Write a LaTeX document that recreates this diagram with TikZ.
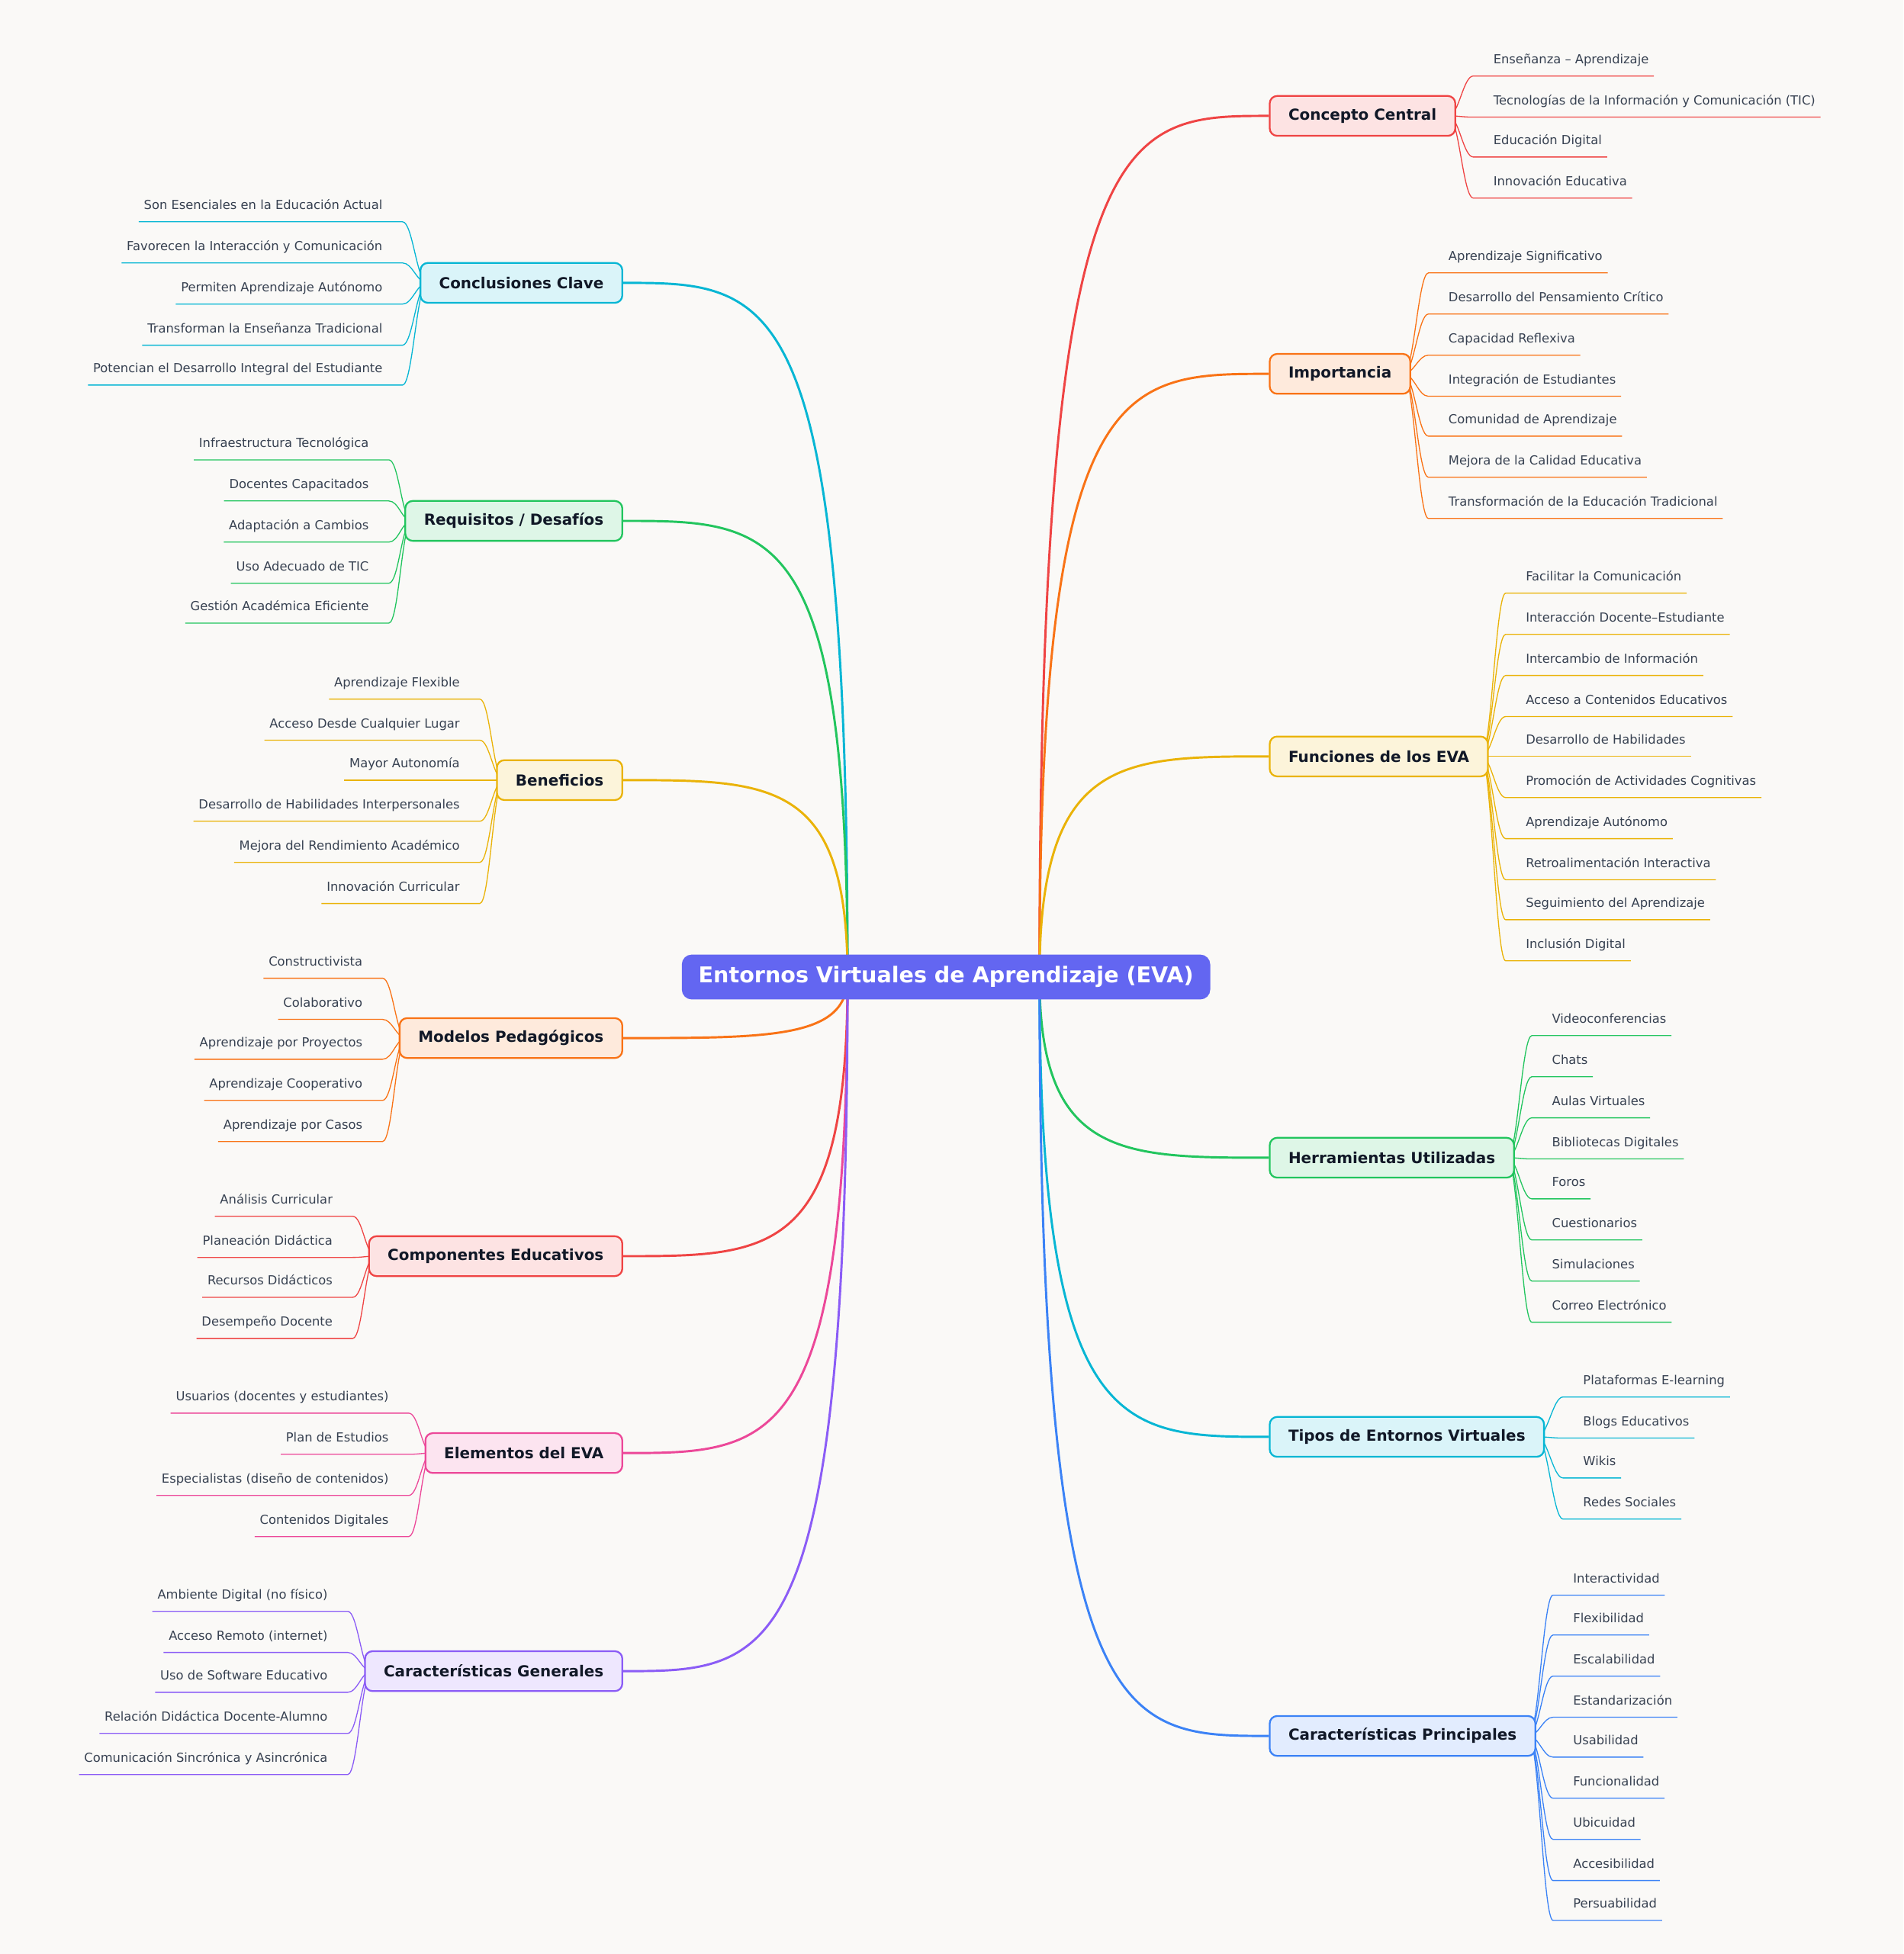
\documentclass[tikz,border=0pt]{standalone}
\usepackage{fontspec}
\setmainfont{DejaVu Sans}
\usetikzlibrary{calc}
\definecolor{cred}{HTML}{EF4444}
\definecolor{corange}{HTML}{F97316}
\definecolor{cyellow}{HTML}{EAB308}
\definecolor{cgreen}{HTML}{22C55E}
\definecolor{ccyan}{HTML}{06B6D4}
\definecolor{cblue}{HTML}{3B82F6}
\definecolor{cpink}{HTML}{EC4899}
\definecolor{cpurple}{HTML}{8B5CF6}
\definecolor{cindigo}{HTML}{6366F1}
\definecolor{bgc}{HTML}{FAF9F7}
\definecolor{ltext}{HTML}{374151}
\definecolor{btext}{HTML}{111827}
\pgfdeclarelayer{bg}
\pgfdeclarelayer{lines}
\pgfsetlayers{bg,lines,main}
\tikzset{
 leaf/.style={font=\fontsize{10}{12}\selectfont, text=ltext, inner sep=0pt},
 br/.style={draw=#1, fill=#1!15, line width=1.4pt, rounded corners=6pt, minimum height=32pt, inner xsep=15pt, text=btext, font=\bfseries\fontsize{12.2}{14}\selectfont},
 mainline/.style={#1, line width=1.8pt},
 leafline/.style={#1, line width=0.8pt}
}
\newcommand\RB[6]{%
 \node[br=#4, anchor=west] (#1) at (1018,#2) {#3};
 \begin{pgfonlayer}{lines}
 \draw[mainline=#4] (cR) .. controls (834,#2) and (900,#2) .. (#1.west);
 \end{pgfonlayer}
 \foreach \ly/\lt [count=\i] in {#6} {
  \node[leaf, anchor=base west] (#1l\i) at (#5,\ly+4) {\lt};
  \path (#1l\i.base east) ++(4,10) coordinate (#1e\i);
  \begin{pgfonlayer}{lines}
  \draw[leafline=#4] ($(#1.east)+(-6,0)$) .. controls ($(#1.east)+(2,0)$) and (#5-24,\ly+14) .. (#5-16,\ly+14) -- (#1e\i);
  \end{pgfonlayer}
 }
}
\newcommand\LB[6]{%
 \node[br=#4, anchor=east] (#1) at (500,#2) {#3};
 \begin{pgfonlayer}{lines}
 \draw[mainline=#4] (cL) .. controls (680,#2) and (620,#2) .. (#1.east);
 \end{pgfonlayer}
 \foreach \ly/\lt [count=\i] in {#6} {
  \node[leaf, anchor=base east] (#1l\i) at (#5,\ly+4) {\lt};
  \path (#1l\i.base west) ++(-4,10) coordinate (#1e\i);
  \begin{pgfonlayer}{lines}
  \draw[leafline=#4] (#1e\i) -- (#5+16,\ly+14) .. controls (#5+24,\ly+14) and ($(#1.west)+(-2,0)$) .. ($(#1.west)+(6,0)$);
  \end{pgfonlayer}
 }
}
\begin{document}
\begin{tikzpicture}[x=1pt,y=-1pt]
\begin{pgfonlayer}{bg}
\fill[bgc] (0,0) rectangle (1527,1568);
\end{pgfonlayer}
\node[fill=cindigo, text=white, rounded corners=8pt, minimum width=424pt, minimum height=36pt, font=\bfseries\fontsize{17.5}{20}\selectfont] (center) at (759,784) {Entornos Virtuales de Aprendizaje (EVA)};
\coordinate (cR) at (834,784);
\coordinate (cL) at (680,784);

\RB{cc}{93}{Concepto Central}{cred}{1198}{47/Enseñanza – Aprendizaje,80/Tecnologías de la Información y Comunicación (TIC),112/Educación Digital,145/Innovación Educativa}
\RB{imp}{300}{Importancia}{corange}{1162}{205/Aprendizaje Significativo,238/Desarrollo del Pensamiento Crítico,271/Capacidad Reflexiva,304/Integración de Estudiantes,336/Comunidad de Aprendizaje,369/Mejora de la Calidad Educativa,402/Transformación de la Educación Tradicional}
\RB{fun}{607}{Funciones de los EVA}{cyellow}{1224}{462/Facilitar la Comunicación,495/Interacción Docente–Estudiante,528/Intercambio de Información,561/Acceso a Contenidos Educativos,593/Desarrollo de Habilidades,626/Promoción de Actividades Cognitivas,659/Aprendizaje Autónomo,692/Retroalimentación Interactiva,724/Seguimiento del Aprendizaje,757/Inclusión Digital}
\RB{her}{929}{Herramientas Utilizadas}{cgreen}{1245}{817/Videoconferencias,850/Chats,883/Aulas Virtuales,916/Bibliotecas Digitales,948/Foros,981/Cuestionarios,1014/Simulaciones,1047/Correo Electrónico}
\RB{tip}{1153}{Tipos de Entornos Virtuales}{ccyan}{1270}{1107/Plataformas E-learning,1140/Blogs Educativos,1172/Wikis,1205/Redes Sociales}
\RB{car}{1393}{Características Principales}{cblue}{1262}{1266/Interactividad,1298/Flexibilidad,1331/Escalabilidad,1364/Estandarización,1396/Usabilidad,1429/Funcionalidad,1462/Ubicuidad,1495/Accesibilidad,1527/Persuabilidad}

\LB{con}{227}{Conclusiones Clave}{ccyan}{307}{164/Son Esenciales en la Educación Actual,197/Favorecen la Interacción y Comunicación,230/Permiten Aprendizaje Autónomo,263/Transforman la Enseñanza Tradicional,295/Potencian el Desarrollo Integral del Estudiante}
\LB{req}{418}{Requisitos / Desafíos}{cgreen}{296}{355/Infraestructura Tecnológica,388/Docentes Capacitados,421/Adaptación a Cambios,454/Uso Adecuado de TIC,486/Gestión Académica Eficiente}
\LB{ben}{626}{Beneficios}{cyellow}{369}{547/Aprendizaje Flexible,580/Acceso Desde Cualquier Lugar,612/Mayor Autonomía,645/Desarrollo de Habilidades Interpersonales,678/Mejora del Rendimiento Académico,711/Innovación Curricular}
\LB{mod}{833}{Modelos Pedagógicos}{corange}{291}{771/Constructivista,804/Colaborativo,836/Aprendizaje por Proyectos,869/Aprendizaje Cooperativo,902/Aprendizaje por Casos}
\LB{com}{1008}{Componentes Educativos}{cred}{267}{962/Análisis Curricular,995/Planeación Didáctica,1027/Recursos Didácticos,1060/Desempeño Docente}
\LB{ele}{1166}{Elementos del EVA}{cpink}{312}{1120/Usuarios (docentes y estudiantes),1153/Plan de Estudios,1186/Especialistas (diseño de contenidos),1219/Contenidos Digitales}
\LB{cg}{1341}{Características Generales}{cpurple}{263}{1279/Ambiente Digital (no físico),1312/Acceso Remoto (internet),1344/Uso de Software Educativo,1377/Relación Didáctica Docente-Alumno,1410/Comunicación Sincrónica y Asincrónica}
\end{tikzpicture}
\end{document}
